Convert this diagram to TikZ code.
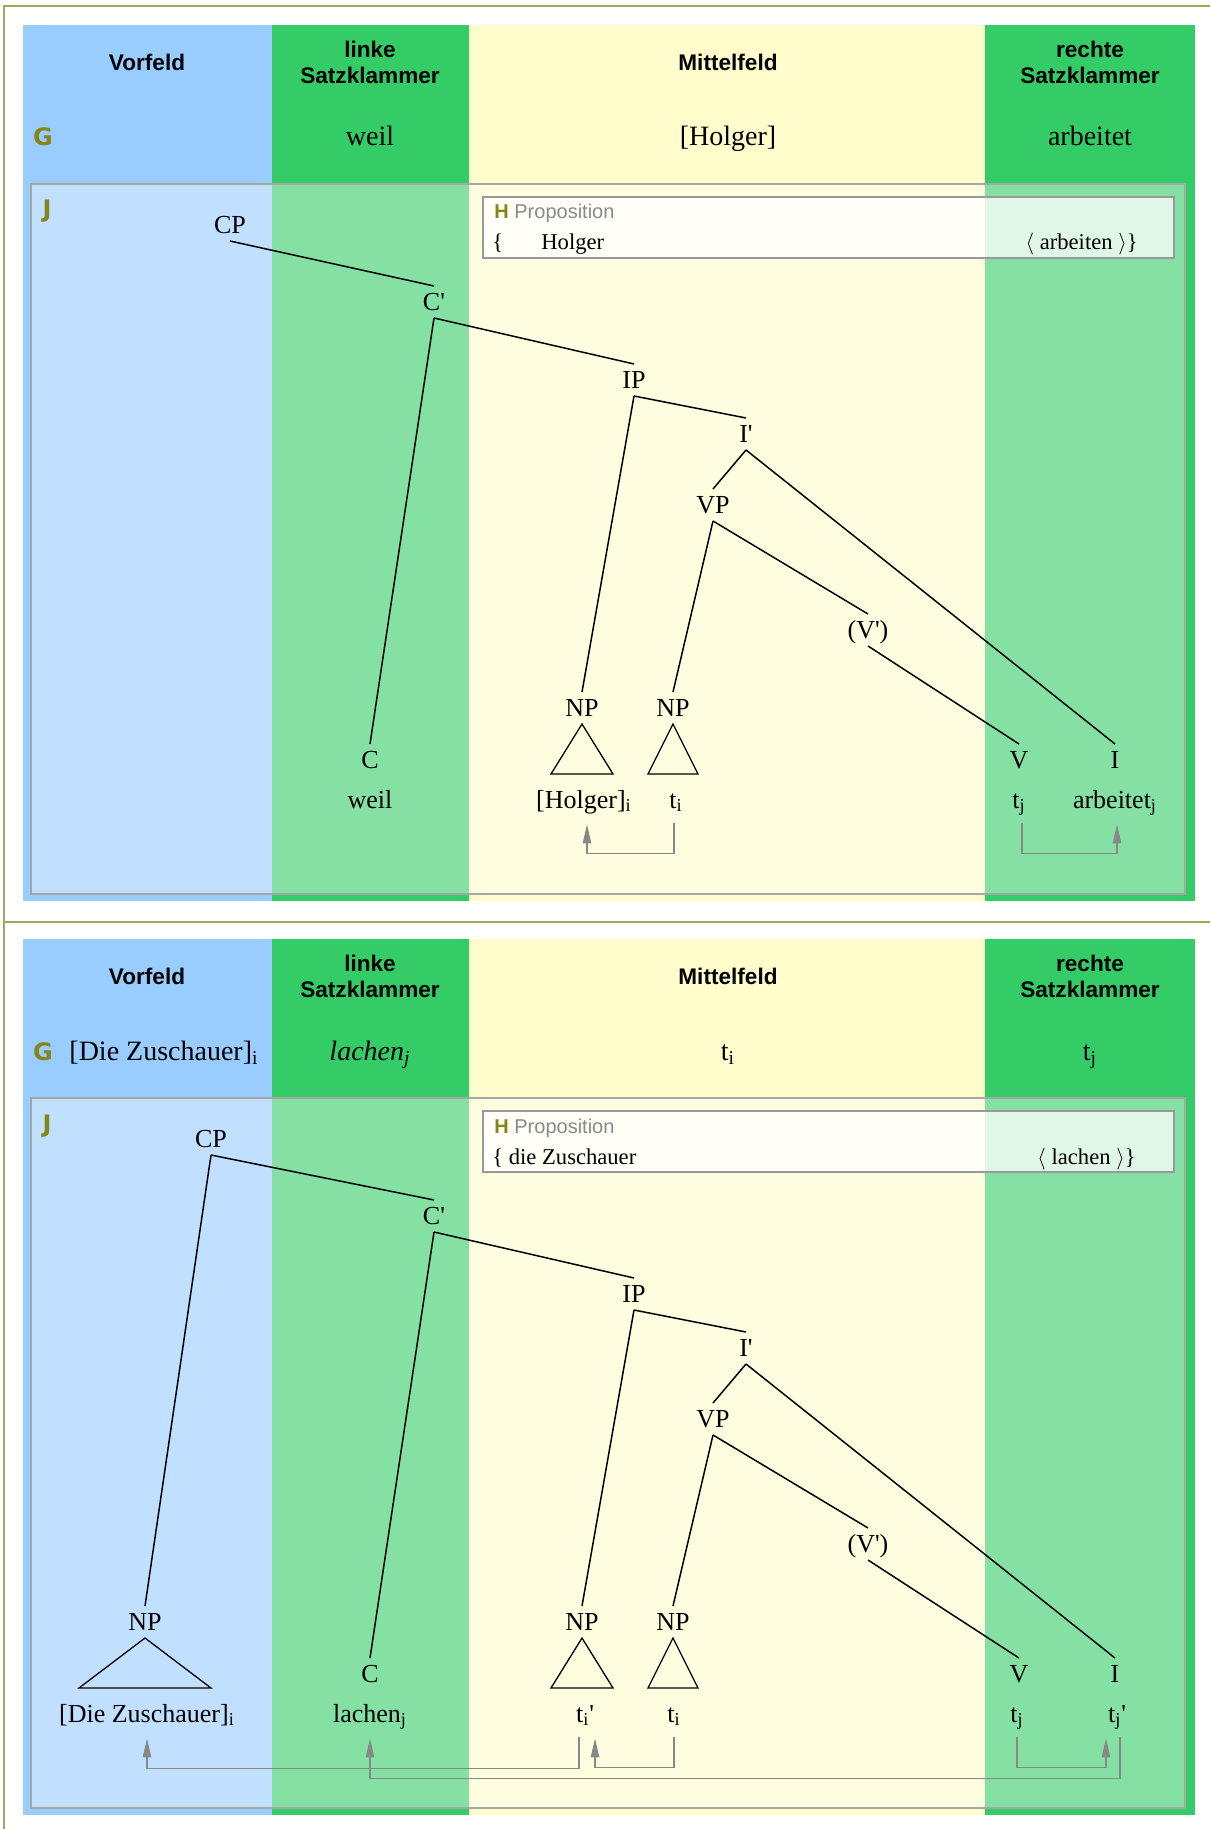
\documentclass[tikz,border=0pt]{standalone}
\usepackage{fontspec}
\setmainfont{Liberation Serif}
\setsansfont{Liberation Sans}
\newfontfamily\markfont{DejaVu Sans}
\usetikzlibrary{arrows.meta}

\definecolor{vfblau}{HTML}{99CCFF}
\definecolor{skgruen}{HTML}{33CC66}
\definecolor{mfgelb}{HTML}{FFFDCC}
\definecolor{olivlab}{HTML}{85851A}
\definecolor{rahmen}{HTML}{A5A55C}
\definecolor{pfeilgrau}{HTML}{888888}
\definecolor{propgrau}{HTML}{8A8A8A}

\newcommand{\pr}{\textquotesingle}
% Felder eines Satzes, Koordinaten in Pixeln
\newcommand{\felder}{%
  \fill[vfblau]  (23,25)  rectangle (272,901);
  \fill[skgruen] (272,25) rectangle (469,901);
  \fill[mfgelb]  (469,25) rectangle (985,901);
  \fill[skgruen] (985,25) rectangle (1195,901);
  \draw[gray!70,line width=0.8pt,fill=white,fill opacity=0.4] (31,184) rectangle (1185,894);
  \draw[gray!80,line width=0.6pt,fill=white,fill opacity=0.75] (483,197) rectangle (1174,258);
}

\begin{document}
\begin{tikzpicture}[x=0.5pt,y=-0.5pt,
  kopf/.style={font=\sffamily\bfseries\fontsize{11.3}{13}\selectfont,align=center,inner sep=0pt},
  zeile/.style={font=\fontsize{14}{16}\selectfont,anchor=base,inner sep=0pt},
  marke/.style={font=\markfont\bfseries\fontsize{12}{14}\selectfont,text=olivlab,anchor=base,inner sep=0pt},
  prop/.style={font=\fontsize{11.3}{13}\selectfont,inner sep=0pt},
  baum/.style={font=\fontsize{13}{15}\selectfont,inner xsep=1pt,inner ysep=3.5pt,text height=8.6pt,text depth=0pt},
  wort/.style={font=\fontsize{13}{15}\selectfont,anchor=base,inner sep=0pt,text depth=7.5pt},
  ast/.style={line width=0.75pt},
  dreieck/.style={line width=0.65pt},
  mov/.style={draw=pfeilgrau,line width=0.6pt,-{Triangle[length=9.5pt,width=4.2pt]},shorten >=0.5pt}]
\useasboundingbox (0,0) rectangle (1210,1829);

\draw[rahmen,line width=0.8pt] (1210,6) -- (4,6) -- (4,1829);
\draw[rahmen,line width=0.8pt] (4,922) -- (1210,922);

%%% Satz 1: weil Holger arbeitet
\begin{scope}
\felder
\node[kopf] (vf1)  at (147,62)  {Vorfeld};
\node[kopf] (lsk1) at (370,62)  {linke\\Satzklammer};
\node[kopf] (mf1)  at (728,62)  {Mittelfeld};
\node[kopf] (rsk1) at (1090,62) {rechte\\Satzklammer};

\node[marke] (g1) at (43,146) {G};
\node[zeile] (gl1) at (370,146)  {weil};
\node[zeile] (gm1) at (728,146)  {[Holger]};
\node[zeile] (gr1) at (1090,146) {arbeitet};

\node[marke] (j1) at (47,218) {J};
\node[prop,anchor=base west,text=propgrau,font=\sffamily\fontsize{10}{12}\selectfont] (h1) at (494,219)
  {\textcolor{olivlab}{\bfseries H} Proposition};
\node[prop,anchor=base west] (pk1) at (492,250) {\{};
\node[prop,anchor=base west] (pa1) at (541,250) {Holger};
\node[prop,anchor=base east] (pv1) at (1138,250) {$\langle$ arbeiten $\rangle$\}};

% Baum
\node[baum] (cp1)   at (230,225) {CP};
\node[baum] (cbar1) at (434,302) {C\pr};
\node[baum] (ip1)   at (634,380) {IP};
\node[baum] (ibar1) at (746,434) {I\pr};
\node[baum] (vp1)   at (713,505) {VP};
\node[baum] (vbar1) at (868,630) {(V\pr)};
\node[baum] (npa1)  at (582,708) {NP};
\node[baum] (npb1)  at (673,708) {NP};
\node[baum] (c1)    at (370,760) {C};
\node[baum] (v1)    at (1019,760) {V};
\node[baum] (i1)    at (1115,760) {I};

\draw[ast] (cp1.south) -- (cbar1.north);
\draw[ast] (cbar1.south) -- (ip1.north);
\draw[ast] (cbar1.south) -- (c1.north);
\draw[ast] (ip1.south) -- (ibar1.north);
\draw[ast] (ip1.south) -- (npa1.north);
\draw[ast] (ibar1.south) -- (vp1.north);
\draw[ast] (ibar1.south) -- (i1.north);
\draw[ast] (vp1.south) -- (npb1.north);
\draw[ast] (vp1.south) -- (vbar1.north);
\draw[ast] (vbar1.south) -- (v1.north);
\draw[dreieck] (npa1.south) -- ++(-31,50) -- ++(62,0) -- cycle;
\draw[dreieck] (npb1.south) -- ++(-25,50) -- ++(50,0) -- cycle;

\node[wort] (weil1) at (370,808)  {weil};
\node[wort] (hol1)  at (584,808)  {[Holger]\textsubscript{i}};
\node[wort] (ti1)   at (676,808)  {t\textsubscript{i}};
\node[wort] (tj1)   at (1019,808) {t\textsubscript{j}};
\node[wort] (arb1)  at (1115,808) {arbeitet\textsubscript{j}};

\draw[mov] ([xshift=-1pt]ti1.south) -- ++(0,30) -| ([xshift=1.5pt]hol1.south);
\draw[mov] ([xshift=1.5pt]tj1.south) -- ++(0,30) -| ([xshift=1pt]arb1.south);
\end{scope}

%%% Satz 2: Die Zuschauer lachen
\begin{scope}[shift={(0,914)}]
\felder
\node[kopf] (vf2)  at (147,62)  {Vorfeld};
\node[kopf] (lsk2) at (370,62)  {linke\\Satzklammer};
\node[kopf] (mf2)  at (728,62)  {Mittelfeld};
\node[kopf] (rsk2) at (1090,62) {rechte\\Satzklammer};

\node[marke] (g2) at (43,146) {G};
\node[zeile] (gv2) at (164,146)  {[Die Zuschauer]\textsubscript{i}};
\node[zeile] (gl2) at (370,146)  {\textit{lachen\textsubscript{j}}};
\node[zeile] (gm2) at (728,146)  {t\textsubscript{i}};
\node[zeile] (gr2) at (1090,146) {t\textsubscript{j}};

\node[marke] (j2) at (47,218) {J};
\node[prop,anchor=base west,text=propgrau,font=\sffamily\fontsize{10}{12}\selectfont] (h2) at (494,219)
  {\textcolor{olivlab}{\bfseries H} Proposition};
\node[prop,anchor=base west] (pa2) at (492,250) {\{ die Zuschauer};
\node[prop,anchor=base east] (pv2) at (1136,250) {$\langle$ lachen $\rangle$\}};

% Baum
\node[baum] (cp2)   at (211,225) {CP};
\node[baum] (cbar2) at (434,302) {C\pr};
\node[baum] (ip2)   at (634,380) {IP};
\node[baum] (ibar2) at (746,434) {I\pr};
\node[baum] (vp2)   at (713,505) {VP};
\node[baum] (vbar2) at (868,630) {(V\pr)};
\node[baum] (npz2)  at (145,708) {NP};
\node[baum] (npa2)  at (582,708) {NP};
\node[baum] (npb2)  at (673,708) {NP};
\node[baum] (c2)    at (370,760) {C};
\node[baum] (v2)    at (1019,760) {V};
\node[baum] (i2)    at (1115,760) {I};

\draw[ast] (cp2.south) -- (cbar2.north);
\draw[ast] (cp2.south) -- (npz2.north);
\draw[ast] (cbar2.south) -- (ip2.north);
\draw[ast] (cbar2.south) -- (c2.north);
\draw[ast] (ip2.south) -- (ibar2.north);
\draw[ast] (ip2.south) -- (npa2.north);
\draw[ast] (ibar2.south) -- (vp2.north);
\draw[ast] (ibar2.south) -- (i2.north);
\draw[ast] (vp2.south) -- (npb2.north);
\draw[ast] (vp2.south) -- (vbar2.north);
\draw[ast] (vbar2.south) -- (v2.north);
\draw[dreieck] (npz2.south) -- ++(-66,50) -- ++(132,0) -- cycle;
\draw[dreieck] (npa2.south) -- ++(-31,50) -- ++(62,0) -- cycle;
\draw[dreieck] (npb2.south) -- ++(-25,50) -- ++(50,0) -- cycle;

\node[wort] (zus2)  at (147,808)  {[Die Zuschauer]\textsubscript{i}};
\node[wort] (lach2) at (370,808)  {lachen\textsubscript{j}};
\node[wort] (tip2)  at (585,808)  {t\textsubscript{i}\pr};
\node[wort] (ti2)   at (674,808)  {t\textsubscript{i}};
\node[wort] (tj2)   at (1017,808) {t\textsubscript{j}};
\node[wort] (tjp2)  at (1117,808) {t\textsubscript{j}\pr};

\draw[mov] ([xshift=-3pt]tip2.south) -- ++(0,31) -| (zus2.south);
\draw[mov] (ti2.south) -- ++(0,30) -| ([xshift=5pt]tip2.south);
\draw[mov] ([xshift=1.5pt]tjp2.south) -- ++(0,41) -| (lach2.south);
\draw[mov] (tj2.south) -- ++(0,30) -| ([xshift=-5.5pt]tjp2.south);
\end{scope}
\end{tikzpicture}
\end{document}
